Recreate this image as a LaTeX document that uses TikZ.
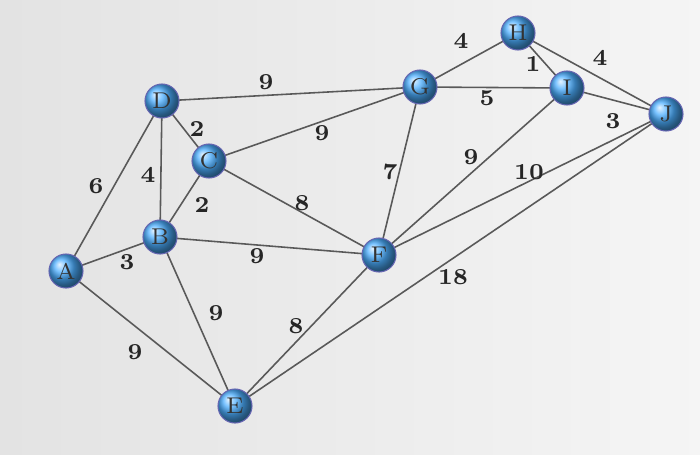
\documentclass[tikz,border=0pt]{standalone}
\begin{document}
\begin{tikzpicture}[x=0.01cm,y=-0.01cm,
  vtx/.style={circle,minimum size=0.34cm,inner sep=0pt,draw=blue!50!black!60,line width=0.3pt,
    ball color=blue!45!cyan!70,text=black!80,font=\fontsize{6.5}{7}\selectfont},
  edge/.style={draw=black!65,line width=0.45pt},
  w/.style={font=\fontsize{6.5}{7}\selectfont\bfseries,text=black!85,inner sep=1pt}]
\fill[left color=gray!22,right color=gray!8] (0,0) rectangle (700,454);
\useasboundingbox (0,0) rectangle (700,454);
\coordinate (A) at (66,271);
\coordinate (B) at (160,237);
\coordinate (C) at (209,161);
\coordinate (D) at (162,101);
\coordinate (E) at (235,406);
\coordinate (F) at (379,255);
\coordinate (G) at (420,87);
\coordinate (H) at (518,33);
\coordinate (I) at (567,88);
\coordinate (J) at (666,114);
\foreach \a/\b in {A/D,A/B,A/E,D/B,D/C,D/G,C/B,C/G,C/F,B/F,B/E,E/F,E/J,G/F,G/H,G/I,H/I,H/J,I/J,I/F,J/F}
  \draw[edge] (\a) -- (\b);
\foreach \n in {A,B,C,D,E,F,G,H,I,J}
  \node[vtx] (n\n) at (\n) {\n};
\node[w] at (96,186) {6};
\node[w] at (127,262) {3};
\node[w] at (135,352) {9};
\node[w] at (148,175) {4};
\node[w] at (197,129) {2};
\node[w] at (266,82) {9};
\node[w] at (202,205) {2};
\node[w] at (322,133) {9};
\node[w] at (302,203) {8};
\node[w] at (257,256) {9};
\node[w] at (216,313) {9};
\node[w] at (296,326) {8};
\node[w] at (453,277) {18};
\node[w] at (390,172) {7};
\node[w] at (461,41) {4};
\node[w] at (487,98) {5};
\node[w] at (533,64) {1};
\node[w] at (600,58) {4};
\node[w] at (613,121) {3};
\node[w] at (471,157) {9};
\node[w] at (529,172) {10};
\end{tikzpicture}
\end{document}
